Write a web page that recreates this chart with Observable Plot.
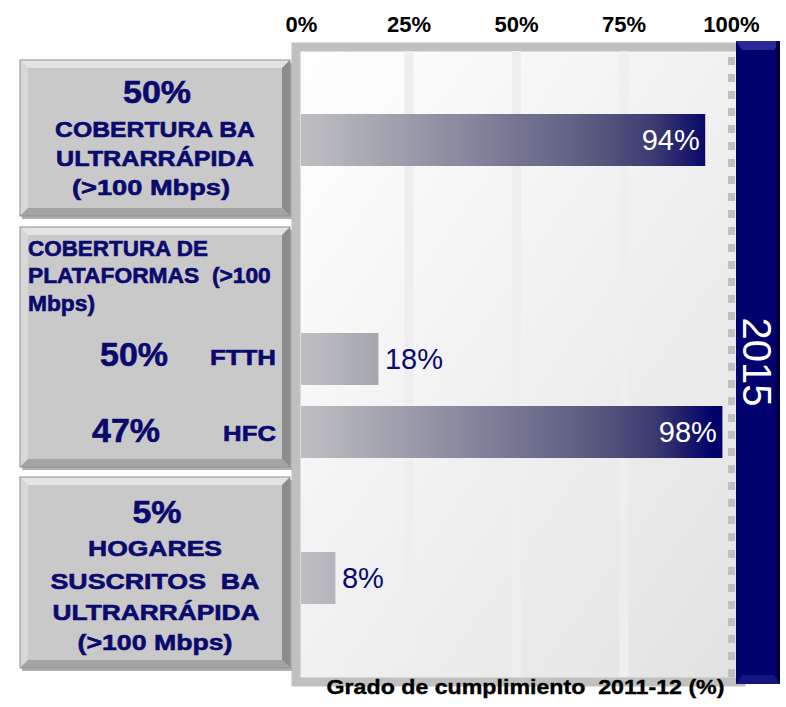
<!DOCTYPE html>
<html><head><meta charset="utf-8">
<script src="https://cdn.jsdelivr.net/npm/d3@7"></script>
<script src="https://cdn.jsdelivr.net/npm/@observablehq/plot@0.6"></script>
<style>body{margin:0;background:#fff} svg{display:block}</style>
</head><body><div id="chart"></div>
<script>
// ---- data ----
const categories = ["Cobertura BA ultrarrápida", "FTTH", "HFC", "Hogares suscritos BA ultrarrápida"];
const values = [94, 18, 98, 8];
const ticks = [0, 25, 50, 75, 100];
const tickLabels = ["0%", "25%", "50%", "75%", "100%"];
const targetYear = "2015";
const axisTitle = "Grado de cumplimiento\u00a0 2011-12 (%)";
const box1Lines = ["50%", "COBERTURA BA", "ULTRARRÁPIDA", "(>100 Mbps)"];
const box2Lines = ["COBERTURA DE", "PLATAFORMAS\u00a0 (>100", "Mbps)"];
const box2Targets = ["50%", "47%"];
const box2Names = ["FTTH", "HFC"];
const box3Lines = ["5%", "HOGARES", "SUSCRITOS\u00a0 BA", "ULTRARRÁPIDA", "(>100 Mbps)"];

const data = categories.map((c, i) => ({category: c, value: values[i]}));
const yDomain = [categories[0], "_s1", "_s2", categories[1], categories[2], "_s3", categories[3]];

const NAVY = "#0a0a6e";
const FONT = "'Liberation Sans', Arial, sans-serif";

const chart = Plot.plot({
  width: 786, height: 707,
  marginLeft: 300, marginRight: 50, marginTop: 51, marginBottom: 30,
  style: {fontFamily: FONT, background: "transparent"},
  x: {domain: [0, 100], range: [301, 731], axis: null},
  y: {domain: yDomain, range: [113, 605], paddingInner: 0.29, paddingOuter: 0, axis: null},
  marks: [
    Plot.frame({fill: "url(#bgGrad)", stroke: "#c0c0c0", strokeWidth: 9, inset: -4.5}),
    Plot.ruleX([25, 50, 75], {stroke: "#eeeeee", strokeWidth: 9}),
    Plot.ruleX([100], {stroke: "#c0c0c0", strokeWidth: 7, strokeDasharray: "8,9", strokeDashoffset: -6}),
    Plot.barX(data, {x: "value", y: "category", fill: "url(#barGrad)"}),
    Plot.text(data.filter(d => d.value >= 50), {x: "value", y: "category", text: d => d.value + "%",
      textAnchor: "end", dx: -6, fill: "white", fontSize: 29}),
    Plot.text(data.filter(d => d.value < 50), {x: "value", y: "category", text: d => d.value + "%",
      textAnchor: "start", dx: 6, fill: NAVY, fontSize: 29}),
    Plot.axisX(ticks, {anchor: "top", label: null, tickSize: 0, tickPadding: 20,
      tickFormat: d => tickLabels[ticks.indexOf(d)], fontSize: 22, fontWeight: "bold", fill: "black",
      stroke: "black", strokeWidth: 0.4}),
    Plot.text([axisTitle], {frameAnchor: "bottom", dy: 16, dx: 7, fontSize: 21, fontWeight: "bold", fill: "black",
      stroke: "black", strokeWidth: 0.4, className: "axis-title"})
  ]
});
document.getElementById("chart").appendChild(chart);

// horizontally stretch a text element to a target width (the reference lettering is wide)
function stretch(el, width) {
  const bb = el.getBBox();
  if (!bb.width) return;
  const s = width / bb.width;
  let cx = bb.x;
  const anchor = el.getAttribute("text-anchor") || getComputedStyle(el).textAnchor;
  if (anchor === "middle") cx = bb.x + bb.width / 2;
  else if (anchor === "end") cx = bb.x + bb.width;
  const t = el.getAttribute("transform") || "";
  el.setAttribute("transform", `${t} translate(${cx},0) scale(${s},1) translate(${-cx},0)`);
}

const svg = d3.select(chart);
svg.selectAll(".axis-title text").each(function() { stretch(this, 398); });
const xs = chart.scale("x");
const defs = svg.insert("defs", ":first-child");
const bg = defs.append("linearGradient").attr("id", "bgGrad")
  .attr("x1", "0").attr("y1", "0").attr("x2", "1").attr("y2", "1");
bg.append("stop").attr("offset", "0").attr("stop-color", "#ffffff");
bg.append("stop").attr("offset", "1").attr("stop-color", "#e2e2e2");
const bar = defs.append("linearGradient").attr("id", "barGrad")
  .attr("gradientUnits", "userSpaceOnUse")
  .attr("x1", xs.apply(0)).attr("x2", xs.apply(96)).attr("y1", 0).attr("y2", 0);
[[0, "#bfbfc2"], [0.2, "#a4a4b0"], [0.45, "#80809a"], [0.7, "#5b5b80"], [0.86, "#3a3a70"], [1, "#00006a"]]
  .forEach(([o, c]) => bar.append("stop").attr("offset", o).attr("stop-color", c));

// ---- decorations: bevelled label boxes ----
const deco = svg.append("g");
function bevelBox(x, y, w, h) {
  const b = 8, g = deco.append("g");
  g.append("rect").attr("x", x + 2).attr("y", y + 3).attr("width", w).attr("height", h).attr("fill", "#b0b0b0");
  g.append("rect").attr("x", x).attr("y", y).attr("width", w).attr("height", h).attr("fill", "#c9c9c9");
  const poly = (pts, fill) => g.append("polygon").attr("points", pts.map(p => p.join(",")).join(" ")).attr("fill", fill);
  poly([[x, y], [x + w, y], [x + w - b, y + b], [x + b, y + b]], "#e4e4e4");
  poly([[x, y], [x + b, y + b], [x + b, y + h - b], [x, y + h]], "#d8d8d8");
  poly([[x + w, y], [x + w, y + h], [x + w - b, y + h - b], [x + w - b, y + b]], "#8c8c8c");
  poly([[x, y + h], [x + w, y + h], [x + w - b, y + h - b], [x + b, y + h - b]], "#a4a4a4");
  g.append("rect").attr("x", x).attr("y", y).attr("width", w).attr("height", h).attr("fill", "none")
    .attr("stroke", "#909090").attr("stroke-width", 1);
}
bevelBox(20, 60, 270, 156);
bevelBox(20, 227, 270, 240);
bevelBox(20, 477, 270, 191);

function txt(x, y, s, size, len, anchor) {
  const t = deco.append("text").attr("x", x).attr("y", y).text(s)
    .attr("font-family", FONT).attr("font-weight", "bold").attr("font-size", size)
    .attr("fill", NAVY).attr("stroke", NAVY).attr("stroke-width", 0.6)
    .attr("text-anchor", anchor || "middle");
  stretch(t.node(), len);
}
// box 1
txt(157, 103, box1Lines[0], 31, 68);
txt(155, 137, box1Lines[1], 22, 200);
txt(155, 166, box1Lines[2], 22, 198);
txt(151, 195, box1Lines[3], 22, 158);
// box 2
txt(28, 256, box2Lines[0], 21.5, 180, "start");
txt(28, 283, box2Lines[1], 21.5, 243, "start");
txt(28, 311, box2Lines[2], 21.5, 67, "start");
txt(134, 366, box2Targets[0], 33, 68);
txt(126, 442, box2Targets[1], 33, 68);
txt(276, 365, box2Names[0], 21.5, 66, "end");
txt(276, 441, box2Names[1], 21.5, 53, "end");
// box 3
txt(157, 523, box3Lines[0], 31, 49);
txt(155, 556, box3Lines[1], 22.5, 134);
txt(155, 589, box3Lines[2], 22.5, 209);
txt(156, 620, box3Lines[3], 22.5, 207);
txt(155, 650, box3Lines[4], 22.5, 155);

// ---- 2015 target bar ----
const tb = svg.append("g");
const bx = 736, by = 41, bw = 44, bh = 643;
tb.append("rect").attr("x", bx).attr("y", by).attr("width", bw).attr("height", bh).attr("fill", "#00006e");
tb.append("polygon").attr("points", `${bx},${by} ${bx + bw},${by} ${bx + bw - 6},${by + 9} ${bx + 6},${by + 9}`).attr("fill", "#2a2a96");
tb.append("rect").attr("x", bx + bw - 4).attr("y", by).attr("width", 4).attr("height", bh).attr("fill", "#00003c");
tb.append("polygon").attr("points", `${bx},${by + bh} ${bx + bw},${by + bh} ${bx + bw - 6},${by + bh - 9} ${bx + 6},${by + bh - 9}`).attr("fill", "#14147e");
tb.append("text").text(targetYear)
  .attr("transform", "translate(757,362) rotate(90)")
  .attr("text-anchor", "middle").attr("dominant-baseline", "central")
  .attr("font-family", FONT).attr("font-size", 40).attr("fill", "white");
</script>
</body></html>
